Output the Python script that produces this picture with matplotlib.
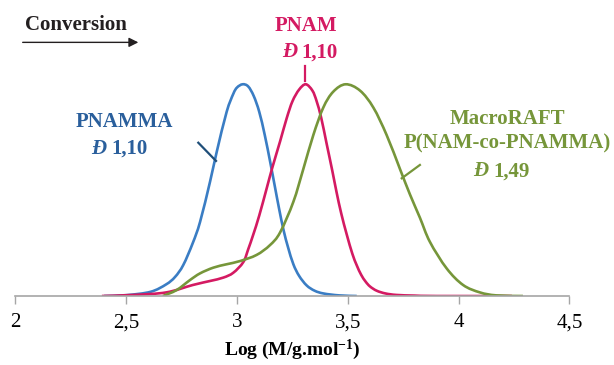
import matplotlib
matplotlib.use('Agg')
import matplotlib.pyplot as plt
from matplotlib.path import Path
from matplotlib.patches import PathPatch

plt.rcParams['font.family'] = 'Liberation Serif'
plt.rcParams['mathtext.fontset'] = 'custom'
plt.rcParams['mathtext.rm'] = 'Liberation Serif:bold'
plt.rcParams['mathtext.it'] = 'Liberation Serif:bold:italic'
plt.rcParams['mathtext.bf'] = 'Liberation Serif:bold'

# SEC traces (normalised)
pnamma_x = [2.40, 2.50, 2.61, 2.68, 2.72, 2.757, 2.80, 2.833, 2.878, 2.908, 2.953, 2.983,
            3.0, 3.025, 3.05, 3.075, 3.10, 3.125, 3.15, 3.17, 3.19, 3.21, 3.23, 3.254,
            3.28, 3.314, 3.35, 3.39, 3.46, 3.54]
pnamma_y = [0.0, 0.004, 0.02, 0.055, 0.09, 0.146, 0.25, 0.35, 0.54, 0.68, 0.87, 0.955,
            0.985, 1.0, 0.99, 0.945, 0.87, 0.76, 0.63, 0.52, 0.41, 0.31, 0.23, 0.15,
            0.095, 0.05, 0.025, 0.012, 0.003, 0.0]

pnam_x = [2.39, 2.53, 2.68, 2.80, 2.878, 2.938, 2.983, 3.028, 3.05, 3.073, 3.10, 3.134,
          3.16, 3.194, 3.224, 3.25, 3.28, 3.31, 3.34, 3.359, 3.38, 3.404, 3.43, 3.449,
          3.47, 3.495, 3.52, 3.54, 3.56, 3.58, 3.60, 3.63, 3.67, 3.72, 3.80, 3.90, 4.24]
pnam_y = [0.0, 0.005, 0.017, 0.052, 0.071, 0.087, 0.11, 0.16, 0.22, 0.29, 0.38, 0.51,
          0.61, 0.73, 0.84, 0.92, 0.975, 1.0, 0.97, 0.92, 0.84, 0.72, 0.59, 0.49,
          0.39, 0.29, 0.20, 0.145, 0.10, 0.068, 0.045, 0.025, 0.012, 0.005, 0.002, 0.0, 0.0]

macro_x = [2.665, 2.727, 2.787, 2.833, 2.893, 2.953, 3.013, 3.088, 3.148, 3.194, 3.254,
           3.299, 3.344, 3.389, 3.434, 3.49, 3.555, 3.615, 3.675, 3.735, 3.78, 3.825,
           3.87, 3.946, 4.02, 4.096, 4.17, 4.29]
macro_y = [0.0, 0.028, 0.075, 0.107, 0.134, 0.15, 0.165, 0.194, 0.24, 0.30, 0.445,
           0.60, 0.76, 0.89, 0.965, 1.0, 0.97, 0.89, 0.76, 0.60, 0.48, 0.37,
           0.256, 0.13, 0.052, 0.017, 0.003, 0.0]

xticks = [2, 2.5, 3, 3.5, 4, 4.5]
xticklabels = ['2', '2,5', '3', '3,5', '4', '4,5']

blue, blue_txt = '#3A7DC4', '#2A5F9C'
pink = '#D41A62'
green = '#76963A'


def smooth_line(ax, xs, ys, color):
    # Excel-style smoothed line: Catmull-Rom segments drawn as cubic Beziers
    n = len(xs)
    verts = [(xs[0], ys[0])]
    codes = [Path.MOVETO]
    for i in range(n - 1):
        i0, i3 = max(i - 1, 0), min(i + 2, n - 1)
        c1 = (xs[i] + (xs[i + 1] - xs[i0]) / 6, ys[i] + (ys[i + 1] - ys[i0]) / 6)
        c2 = (xs[i + 1] - (xs[i3] - xs[i]) / 6, ys[i + 1] - (ys[i3] - ys[i]) / 6)
        verts += [c1, c2, (xs[i + 1], ys[i + 1])]
        codes += [Path.CURVE4] * 3
    ax.add_patch(PathPatch(Path(verts, codes), fill=False, edgecolor=color, lw=1.9,
                           capstyle='butt'))


fig = plt.figure(figsize=(6.14, 3.65), dpi=100)
ax = fig.add_axes([0.0252, 0.189, 0.9023, 0.6381])

smooth_line(ax, pnamma_x, pnamma_y, blue)
smooth_line(ax, pnam_x, pnam_y, pink)
smooth_line(ax, macro_x, macro_y, green)

ax.set_xlim(2, 4.5)
ax.set_ylim(0, 1.1)
ax.set_yticks([])
for s in ['left', 'right', 'top']:
    ax.spines[s].set_visible(False)
ax.spines['bottom'].set_color('#A6A6A6')
ax.spines['bottom'].set_linewidth(1.2)
ax.set_xticks(xticks)
ax.set_xticklabels(xticklabels, fontsize=15)
ax.tick_params(axis='x', direction='out', length=5.5, width=1.0, color='#A6A6A6', pad=7)
ax.set_xlabel('Log (M/g.mol$^{-1}$)', fontsize=14, fontweight='bold', labelpad=4)

bold = dict(fontsize=15, fontweight='bold', va='center')

# Conversion arrow
ax.text(2.273, 1.28, 'Conversion', ha='center', color='#231F20', clip_on=False, **bold)
ax.annotate('', xy=(2.567, 1.198), xytext=(2.02, 1.198), annotation_clip=False,
            arrowprops=dict(arrowstyle='-|>', color='#231F20', lw=1.0, mutation_scale=14))

# PNAM label
ax.text(3.31, 1.275, 'PNAM', ha='center', color=pink, **bold)
ax.text(3.27, 1.152, 'Đ', ha='right', color=pink, style='italic', **bold)
ax.text(3.29, 1.152, '1,10', ha='left', color=pink, **bold)
ax.plot([3.307, 3.307], [1.017, 1.086], color=pink, lw=1.6, clip_on=False)

# PNAMMA label
ax.text(2.493, 0.822, 'PNAMMA', ha='center', color=blue_txt, **bold)
ax.text(2.412, 0.696, 'Đ', ha='right', color=blue_txt, style='italic', **bold)
ax.text(2.433, 0.696, '1,10', ha='left', color=blue_txt, **bold)
ax.plot([2.825, 2.905], [0.724, 0.638], color='#1F4E79', lw=1.6)

# MacroRAFT label
ax.text(4.22, 0.837, 'MacroRAFT', ha='center', color=green, **bold)
ax.text(4.22, 0.719, 'P(NAM-co-PNAMMA)', ha='center', color=green, **bold)
ax.text(4.132, 0.589, 'Đ', ha='right', color=green, style='italic', **bold)
ax.text(4.157, 0.589, '1,49', ha='left', color=green, **bold)
ax.plot([3.825, 3.743], [0.619, 0.556], color=green, lw=1.6)

fig.savefig('out.png', dpi=100)
plt.close(fig)
